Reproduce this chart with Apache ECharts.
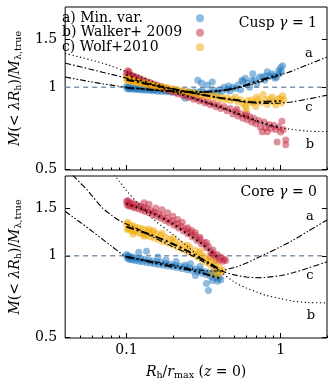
<!DOCTYPE html>
<html><head><meta charset="utf-8">
<script src="https://cdn.jsdelivr.net/npm/echarts@6/dist/echarts.min.js"></script>
<style>html,body{margin:0;padding:0;background:#fff}#c{width:330px;height:382px}</style>
</head><body><div id="c"></div>
<script>
const FONT = 'DejaVu Serif';
const xMin = 0.04, xMax = 2;
const yMin = 0.497, yMax = 1.97;
const xMajorTicks = [0.1, 1];
const xMinorTicks = [0.05,0.06,0.07,0.08,0.09,0.2,0.3,0.4,0.5,0.6,0.7,0.8,0.9,2];
const yTicks = [0.5, 1, 1.5];
const seriesNames = ['a) Min. var.', 'b) Walker+ 2009', 'c) Wolf+2010'];
const panelLabels = ['Cusp', 'Core'];
const panelGamma = ['1', '0'];
const curveLetters = ['a', 'b', 'c'];
const refLine = [[0.04, 1], [2, 1]];

// ---- Cusp (top) panel scatter ----
const cuspMinVar = [[0.100,1.006],[0.101,0.990],[0.102,0.998],[0.104,0.984],[0.105,1.002],[0.107,0.990],[0.109,0.996],[0.111,0.983],[0.113,0.995],[0.116,0.982],[0.118,0.992],[0.121,0.980],[0.124,0.990],[0.127,0.977],[0.130,0.987],[0.133,0.975],[0.137,0.984],[0.141,0.972],[0.145,0.981],[0.149,0.970],[0.153,0.978],[0.158,0.967],[0.163,0.976],[0.168,0.965],[0.174,0.974],[0.180,0.962],[0.186,0.971],[0.193,0.960],[0.200,0.969],[0.208,0.958],[0.216,0.967],[0.224,0.956],[0.233,0.965],[0.242,0.955],[0.252,0.963],[0.262,0.953],[0.273,0.962],[0.285,0.952],[0.297,0.962],[0.240,0.912],[0.29,1.06],[0.307,1.036],[0.31,0.97],[0.32,0.955],[0.335,1.02],[0.35,0.962],[0.36,1.046],[0.37,0.975],[0.385,0.958],[0.40,0.978],[0.415,0.962],[0.43,1.0],[0.45,0.982],[0.47,0.968],[0.49,1.0],[0.51,0.99],[0.53,1.02],[0.55,0.98],[0.57,1.05],[0.59,1.08],[0.61,1.036],[0.63,1.0],[0.65,1.06],[0.68,1.06],[0.7,1.03],[0.73,1.09],[0.76,1.09],[0.79,1.06],[0.82,1.14],[0.85,1.1],[0.88,1.12],[0.9,1.1],[0.92,1.08],[0.94,1.09],[0.97,1.15],[1.0,1.18],[1.01,1.14],[1.03,1.2],[0.98,1.12],[0.8,1.1],[0.66,1.12],[0.56,1.06],[0.46,1.01]];
const cuspWalker = [[0.100,1.125],[0.101,1.100],[0.102,1.150],[0.103,1.112],[0.104,1.140],[0.105,1.095],[0.107,1.108],[0.109,1.088],[0.111,1.100],[0.113,1.078],[0.116,1.090],[0.118,1.068],[0.121,1.078],[0.124,1.056],[0.127,1.066],[0.130,1.045],[0.133,1.055],[0.137,1.034],[0.141,1.043],[0.145,1.022],[0.149,1.031],[0.153,1.010],[0.158,1.019],[0.163,0.998],[0.168,1.006],[0.174,0.986],[0.180,0.993],[0.186,0.972],[0.193,0.980],[0.200,0.958],[0.208,0.966],[0.216,0.944],[0.224,0.952],[0.233,0.930],[0.242,0.938],[0.252,0.917],[0.262,0.924],[0.273,0.903],[0.285,0.911],[0.297,0.890],[0.31,0.898],[0.323,0.876],[0.336,0.885],[0.35,0.862],[0.365,0.872],[0.38,0.848],[0.395,0.86],[0.41,0.835],[0.43,0.848],[0.45,0.82],[0.47,0.835],[0.49,0.798],[0.51,0.815],[0.53,0.785],[0.55,0.8],[0.57,0.77],[0.59,0.79],[0.61,0.76],[0.63,0.78],[0.65,0.745],[0.67,0.77],[0.69,0.735],[0.72,0.755],[0.74,0.715],[0.76,0.686],[0.78,0.745],[0.8,0.71],[0.82,0.686],[0.84,0.73],[0.87,0.705],[0.9,0.725],[0.93,0.7],[0.95,0.63],[0.97,0.715],[1.0,0.685],[1.02,0.75],[1.04,0.7],[1.08,0.64],[1.08,0.615],[0.6,0.8],[0.52,0.83]];
const cuspWolf = [[0.100,1.078],[0.101,1.060],[0.102,1.072],[0.104,1.056],[0.105,1.068],[0.107,1.052],[0.109,1.062],[0.111,1.047],[0.113,1.056],[0.116,1.041],[0.118,1.050],[0.121,1.035],[0.124,1.044],[0.127,1.029],[0.130,1.038],[0.133,1.023],[0.137,1.031],[0.141,1.016],[0.145,1.024],[0.149,1.010],[0.153,1.017],[0.158,1.003],[0.163,1.010],[0.168,0.996],[0.174,1.003],[0.180,0.989],[0.186,0.995],[0.193,0.981],[0.200,0.987],[0.208,0.973],[0.216,0.979],[0.224,0.965],[0.233,0.971],[0.242,0.958],[0.252,0.963],[0.262,0.950],[0.273,0.955],[0.285,0.943],[0.297,0.948],[0.31,0.935],[0.323,0.942],[0.336,0.926],[0.35,0.935],[0.365,0.918],[0.38,0.93],[0.395,0.91],[0.41,0.92],[0.43,0.9],[0.45,0.915],[0.47,0.895],[0.49,0.905],[0.51,0.92],[0.53,0.885],[0.55,0.9],[0.57,0.87],[0.59,0.85],[0.61,0.895],[0.63,0.875],[0.65,0.9],[0.67,0.88],[0.69,0.85],[0.72,0.9],[0.75,0.88],[0.77,0.94],[0.8,0.9],[0.82,0.865],[0.85,0.905],[0.88,0.92],[0.9,0.885],[0.93,0.86],[0.96,0.905],[0.99,0.91],[1.01,0.875],[1.03,0.93],[1.05,0.9],[0.6,0.83],[0.7,0.92]];

// ---- Core (bottom) panel scatter ----
const coreMinVar = [[0.100,1.010],[0.101,0.985],[0.102,1.000],[0.103,0.972],[0.104,0.995],[0.106,0.968],[0.108,0.990],[0.110,0.965],[0.112,0.985],[0.115,0.960],[0.118,0.980],[0.121,0.955],[0.124,0.974],[0.127,0.950],[0.131,0.968],[0.135,0.945],[0.139,0.962],[0.143,0.940],[0.147,0.956],[0.152,0.934],[0.157,0.950],[0.162,0.928],[0.167,0.944],[0.173,0.922],[0.179,0.937],[0.185,0.916],[0.192,0.930],[0.199,0.910],[0.206,0.923],[0.214,0.903],[0.222,0.916],[0.230,0.896],[0.239,0.909],[0.248,0.888],[0.258,0.901],[0.268,0.880],[0.279,0.893],[0.29,0.872],[0.30,0.885],[0.31,0.862],[0.32,0.874],[0.33,0.852],[0.34,0.866],[0.35,0.842],[0.36,0.855],[0.37,0.832],[0.38,0.848],[0.39,0.822],[0.40,0.835],[0.41,0.815],[0.12,1.03],[0.135,1.04],[0.16,0.99],[0.18,0.965],[0.21,0.952],[0.24,0.925],[0.26,0.935],[0.3,0.912],[0.28,0.845],[0.33,0.79],[0.34,0.745],[0.37,0.88],[0.36,0.81],[0.39,0.805]];
const coreWalker = [[0.100,1.585],[0.101,1.545],[0.102,1.600],[0.103,1.525],[0.104,1.575],[0.106,1.530],[0.108,1.565],[0.110,1.515],[0.112,1.552],[0.114,1.502],[0.117,1.540],[0.120,1.490],[0.123,1.525],[0.126,1.475],[0.129,1.508],[0.132,1.458],[0.136,1.490],[0.140,1.440],[0.144,1.470],[0.148,1.420],[0.152,1.448],[0.157,1.398],[0.162,1.425],[0.167,1.375],[0.172,1.400],[0.178,1.350],[0.184,1.372],[0.190,1.323],[0.197,1.345],[0.204,1.295],[0.211,1.315],[0.218,1.265],[0.226,1.285],[0.234,1.235],[0.242,1.255],[0.25,1.205],[0.259,1.222],[0.268,1.172],[0.277,1.19],[0.287,1.138],[0.297,1.155],[0.307,1.105],[0.318,1.12],[0.329,1.07],[0.34,1.085],[0.352,1.035],[0.364,1.05],[0.376,1.0],[0.388,1.01],[0.40,0.965],[0.41,0.99],[0.42,0.955],[0.43,0.97],[0.44,0.96],[0.13,1.57],[0.14,1.55],[0.155,1.5],[0.17,1.48],[0.185,1.44],[0.2,1.4],[0.215,1.36],[0.23,1.33],[0.25,1.27],[0.265,1.24],[0.28,1.215],[0.3,1.17],[0.33,1.12],[0.36,1.02],[0.38,0.96],[0.35,0.99]];
const coreWolf = [[0.100,1.31],[0.101,1.25],[0.102,1.33],[0.103,1.26],[0.105,1.30],[0.107,1.24],[0.109,1.29],[0.111,1.235],[0.113,1.28],[0.116,1.225],[0.119,1.27],[0.122,1.21],[0.125,1.26],[0.128,1.20],[0.131,1.25],[0.135,1.19],[0.139,1.235],[0.143,1.175],[0.147,1.22],[0.152,1.16],[0.157,1.205],[0.162,1.145],[0.167,1.19],[0.173,1.13],[0.179,1.17],[0.185,1.115],[0.192,1.15],[0.199,1.095],[0.206,1.13],[0.214,1.075],[0.222,1.11],[0.230,1.055],[0.239,1.09],[0.248,1.035],[0.258,1.07],[0.268,1.015],[0.279,1.045],[0.29,0.99],[0.30,1.02],[0.31,0.965],[0.32,0.995],[0.33,0.945],[0.34,0.97],[0.35,0.925],[0.36,0.95],[0.37,0.905],[0.38,0.93],[0.39,0.885],[0.40,0.905],[0.41,0.87],[0.42,0.885],[0.15,1.24],[0.17,1.21],[0.2,1.16],[0.13,1.18],[0.25,1.09],[0.3,1.04],[0.36,0.86],[0.39,0.845],[0.11,1.20],[0.14,1.255]];

// ---- model curves (thin, full range) ----
const cuspCurveA = [[0.04,1.09],[0.05,1.065],[0.06,1.045],[0.07,1.03],[0.08,1.018],[0.1,1.0],[0.12,0.99],[0.15,0.977],[0.2,0.965],[0.25,0.96],[0.3,0.96],[0.4,0.97],[0.5,0.99],[0.6,1.012],[0.7,1.037],[0.8,1.062],[1,1.11],[1.2,1.15],[1.5,1.21],[2,1.29]];
const cuspCurveB = [[0.04,1.33],[0.05,1.29],[0.06,1.255],[0.07,1.225],[0.08,1.195],[0.1,1.14],[0.12,1.1],[0.15,1.045],[0.2,0.975],[0.25,0.93],[0.3,0.895],[0.4,0.845],[0.5,0.805],[0.6,0.775],[0.7,0.75],[0.8,0.73],[1,0.71],[1.2,0.7],[1.5,0.69],[2,0.688]];
const cuspCurveC = [[0.04,1.225],[0.05,1.19],[0.06,1.16],[0.07,1.135],[0.08,1.115],[0.1,1.08],[0.12,1.055],[0.15,1.02],[0.2,0.985],[0.25,0.96],[0.3,0.94],[0.4,0.915],[0.5,0.895],[0.6,0.88],[0.7,0.875],[0.8,0.872],[1,0.875],[1.2,0.885],[1.5,0.905],[2,0.935]];
const coreCurveA = [[0.04,1.46],[0.05,1.33],[0.06,1.23],[0.07,1.15],[0.08,1.085],[0.1,0.99],[0.12,0.97],[0.15,0.952],[0.2,0.925],[0.25,0.9],[0.3,0.885],[0.35,0.878],[0.4,0.88],[0.5,0.905],[0.6,0.94],[0.7,0.98],[0.8,1.015],[1,1.08],[1.2,1.14],[1.5,1.23],[2,1.355]];
const coreCurveB = [[0.075,2.15],[0.08,2.05],[0.09,1.88],[0.1,1.74],[0.12,1.55],[0.15,1.36],[0.2,1.2],[0.25,1.08],[0.3,0.99],[0.4,0.88],[0.5,0.8],[0.6,0.76],[0.7,0.735],[0.8,0.715],[1,0.695],[1.2,0.68],[1.5,0.672],[2,0.67]];
const coreCurveC = [[0.04,2.15],[0.045,1.98],[0.05,1.86],[0.055,1.76],[0.06,1.66],[0.07,1.5],[0.08,1.41],[0.09,1.35],[0.1,1.31],[0.12,1.25],[0.15,1.17],[0.2,1.08],[0.25,1.02],[0.3,0.965],[0.4,0.885],[0.5,0.85],[0.6,0.835],[0.7,0.83],[0.8,0.832],[1,0.845],[1.2,0.865],[1.5,0.9],[2,0.95]];

// ---- running medians over the data (thick) ----
const cuspMedA = [[0.1,0.995],[0.15,0.978],[0.2,0.966],[0.3,0.96],[0.4,0.97],[0.5,0.99],[0.6,1.02],[0.7,1.05],[0.8,1.075],[1.0,1.12]];
const cuspMedB = [[0.1,1.11],[0.15,1.02],[0.2,0.963],[0.3,0.894],[0.4,0.85],[0.5,0.81],[0.6,0.78],[0.7,0.755],[0.8,0.735],[1.0,0.71]];
const cuspMedC = [[0.1,1.065],[0.15,1.017],[0.2,0.985],[0.3,0.942],[0.4,0.915],[0.5,0.9],[0.6,0.885],[0.7,0.88],[0.8,0.885],[1.0,0.89]];
const coreMedA = [[0.1,0.992],[0.15,0.944],[0.2,0.91],[0.25,0.89],[0.3,0.868],[0.35,0.845],[0.4,0.828]];
const coreMedB = [[0.1,1.555],[0.15,1.43],[0.2,1.31],[0.25,1.2],[0.3,1.12],[0.35,1.04],[0.4,0.975]];
const coreMedC = [[0.1,1.28],[0.15,1.185],[0.2,1.105],[0.25,1.04],[0.3,0.98],[0.35,0.935],[0.4,0.89]];

const scatterData = [[cuspMinVar, cuspWalker, cuspWolf], [coreMinVar, coreWalker, coreWolf]];
const curveData = [[cuspCurveA, cuspCurveB, cuspCurveC], [coreCurveA, coreCurveB, coreCurveC]];
const medianData = [[cuspMedA, cuspMedB, cuspMedC], [coreMedA, coreMedB, coreMedC]];

const colors = ['#1f78bd', '#c21f3a', '#f2a700'];
const dashes = [[6,2,1.5,2,1.5,2], [1.2,2.6], [6,2.2,1.5,2.2]];
const endLabelOffsets = [
  [[-18,-3],[-17,13],[-18,12]],
  [[-17,-3],[-16,13],[-17,14]]
];

const fmt = v => String(+(+v).toPrecision(3));
const txt = {fontFamily: FONT, fontSize: 14, color: '#000'};
const rich = {
  n: {fontFamily: FONT, fontSize: 14, lineHeight: 18, fontWeight: 'normal', color: '#000'},
  i: {fontFamily: FONT, fontSize: 14, lineHeight: 18, fontWeight: 'normal', fontStyle: 'italic', color: '#000'},
  s: {fontFamily: FONT, fontSize: 9.5, lineHeight: 9, fontWeight: 'normal', verticalAlign: 'bottom', color: '#000'}
};
const yName = '{i|M}{n|(< }{i|λR}{s|h}{n|)/}{i|M}{s|λ,true}';
const xName = '{i|R}{s|h}{n|/}{i|r}{s|max}{n| (}{i|z}{n| = 0)}';

const grids = [0, 1].map(p => ({
  left: 55, right: 3, top: p === 0 ? 7 : 176, height: 163,
  show: true, borderColor: '#000', borderWidth: 1, backgroundColor: 'transparent'
}));

const xAxes = [], yAxes = [];
[0, 1].forEach(p => {
  const base = {type: 'log', logBase: 10, gridIndex: p, min: xMin, max: xMax, splitLine: {show: false}, axisLine: {show: false}};
  xAxes.push(Object.assign({}, base, {
    position: 'bottom',
    axisTick: {show: true, inside: true, length: 5, customValues: xMajorTicks, lineStyle: {color: '#000', width: 1}},
    axisLabel: {show: p === 1, customValues: xMajorTicks, formatter: fmt, margin: 5, ...txt},
    name: p === 1 ? xName : '', nameLocation: 'middle', nameGap: 25,
    nameTextStyle: {rich: rich}
  }));
  xAxes.push(Object.assign({}, base, {
    position: 'bottom',
    axisTick: {show: true, inside: true, length: 2.5, customValues: xMinorTicks, lineStyle: {color: '#000', width: 1}},
    axisLabel: {show: false}
  }));
  const ybase = {type: 'log', logBase: 10, gridIndex: p, min: yMin, max: yMax, splitLine: {show: false}, axisLine: {show: false}};
  yAxes.push(Object.assign({}, ybase, {
    position: 'left',
    axisTick: {show: true, inside: true, length: 5, customValues: yTicks, lineStyle: {color: '#000', width: 1}},
    axisLabel: {show: true, customValues: yTicks, formatter: fmt, margin: 8, ...txt},
    name: yName, nameLocation: 'middle', nameRotate: 90, nameGap: 29,
    nameTextStyle: {rich: rich}
  }));
  yAxes.push(Object.assign({}, ybase, {
    position: 'right',
    axisTick: {show: true, inside: true, length: 5, customValues: yTicks, lineStyle: {color: '#000', width: 1}},
    axisLabel: {show: false}
  }));
});

const series = [];
[0, 1].forEach(p => {
  const xi = 2 * p, yi = 2 * p;
  series.push({
    type: 'line', xAxisIndex: xi, yAxisIndex: yi, data: refLine, symbol: 'none', silent: true, z: 1,
    lineStyle: {color: '#7f93a9', width: 1.4, type: [5, 4]}
  });
  [0, 1, 2].forEach(k => {
    series.push({
      type: 'scatter', name: seriesNames[k], xAxisIndex: xi, yAxisIndex: yi,
      data: scatterData[p][k], symbolSize: 7, silent: true, z: 2,
      itemStyle: {color: colors[k], opacity: 0.5}
    });
  });
  [0, 1, 2].forEach(k => {
    series.push({
      type: 'line', xAxisIndex: xi, yAxisIndex: yi, data: curveData[p][k], symbol: 'none', smooth: 0.3,
      silent: true, z: 3,
      lineStyle: {color: '#000', width: 1.1, type: dashes[k]},
      endLabel: {show: true, formatter: curveLetters[k], fontFamily: FONT, fontSize: 13, color: '#000',
        distance: 0, offset: endLabelOffsets[p][k], align: 'center', verticalAlign: 'middle'}
    });
    series.push({
      type: 'line', xAxisIndex: xi, yAxisIndex: yi, data: medianData[p][k], symbol: 'none', smooth: 0.3,
      silent: true, z: 4,
      lineStyle: {color: '#000', width: 2, type: dashes[k].map(d => d * 1.3)}
    });
  });
});

const titles = [0, 1].map(p => ({
  text: '{n|' + panelLabels[p] + ' }{i|γ}{n| = ' + panelGamma[p] + '}',
  right: 8, top: p === 0 ? 9 : 178,
  textStyle: {rich: rich, fontWeight: 'normal'}
}));

const chart = echarts.init(document.getElementById('c'), null, {renderer: 'canvas'});
chart.setOption({
  animation: false,
  backgroundColor: '#fff',
  title: titles,
  legend: {
    left: 57, top: 6, orient: 'vertical', align: 'right', icon: 'circle',
    itemWidth: 8, itemHeight: 8, itemGap: 0, selectedMode: false,
    data: seriesNames,
    formatter: name => '{t|' + name + '}',
    textStyle: {fontFamily: FONT, fontSize: 14, color: '#000', lineHeight: 14.5,
      rich: {t: {fontFamily: FONT, fontSize: 14, color: '#000', width: 129, align: 'left', lineHeight: 14.5}}}
  },
  grid: grids,
  xAxis: xAxes,
  yAxis: yAxes,
  series: series
});
</script>
</body></html>
